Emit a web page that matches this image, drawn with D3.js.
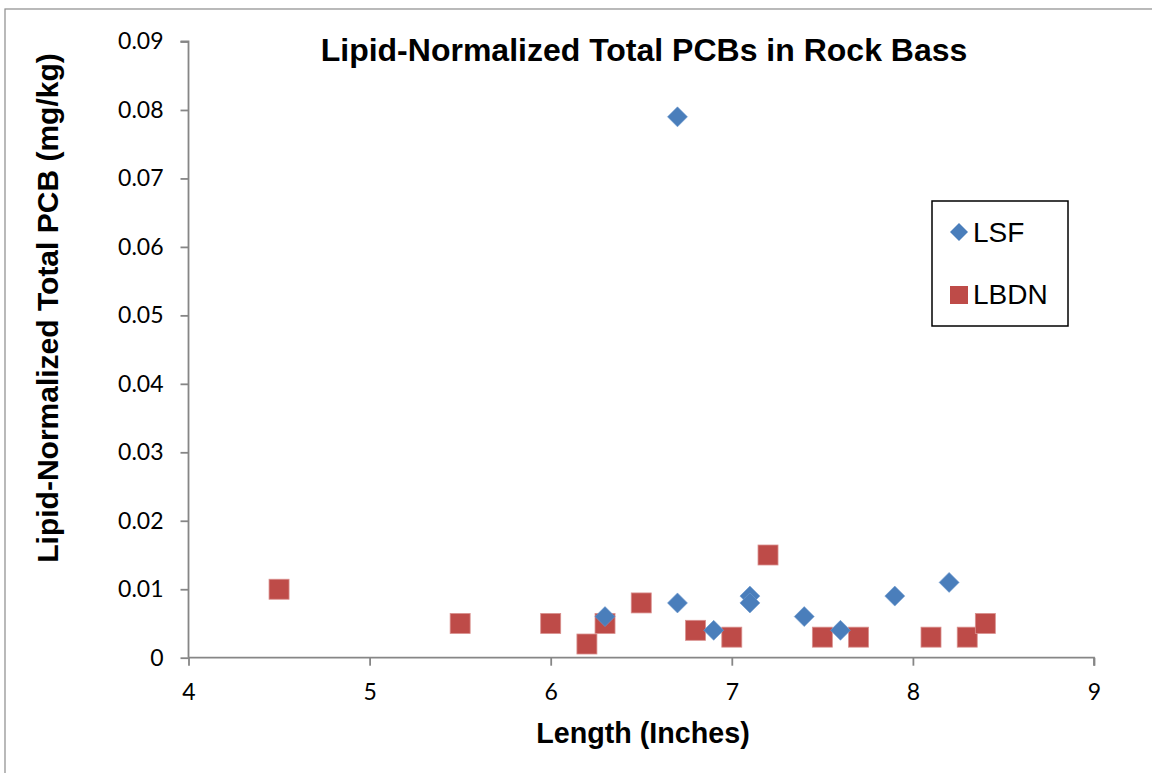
<!DOCTYPE html>
<html>
<head>
<meta charset="utf-8">
<script src="https://cdn.jsdelivr.net/npm/d3@7"></script>
<style>
  html, body { margin: 0; padding: 0; background: #fff; }
  svg { display: block; }
</style>
</head>
<body>
<svg id="chart" width="1152" height="773"></svg>
<script>
const titleText = "Lipid-Normalized Total PCBs in Rock Bass";
const xLabel = "Length (Inches)";
const yLabel = "Lipid-Normalized Total PCB (mg/kg)";
const seriesNames = ["LSF", "LBDN"];
const xTicks = [4, 5, 6, 7, 8, 9];
const yTicks = [0, 0.01, 0.02, 0.03, 0.04, 0.05, 0.06, 0.07, 0.08, 0.09];

const lsfX = [6.3, 6.7, 6.7, 6.9, 7.1, 7.1, 7.4, 7.6, 7.9, 8.2];
const lsfY = [0.006, 0.079, 0.008, 0.004, 0.009, 0.008, 0.006, 0.004, 0.009, 0.011];

const lbdnX = [4.5, 5.5, 6.0, 6.2, 6.3, 6.5, 6.8, 7.0, 7.2, 7.5, 7.7, 8.1, 8.3, 8.4];
const lbdnY = [0.010, 0.005, 0.005, 0.002, 0.005, 0.008, 0.004, 0.003, 0.015, 0.003, 0.003, 0.003, 0.003, 0.005];

const svg = d3.select("#chart");
const W = 1152, H = 773;
const plot = { left: 188.5, right: 1094, top: 41.5, bottom: 657.7 };

const blue = "#4A7EBB", red = "#BE4B48";
const axisColor = "#868686";
const tickFont = "Lato, 'Open Sans', sans-serif";
const boldFont = "'Liberation Sans', Arial, sans-serif";

// outer chart border
svg.append("rect").attr("x", 5).attr("y", 9).attr("width", W + 20).attr("height", H + 20)
  .attr("fill", "#fff").attr("stroke", "#8c8c8c").attr("stroke-width", 1.2);

const x = d3.scaleLinear().domain([4, 9]).range([plot.left, plot.right]);
const y = d3.scaleLinear().domain([0, 0.09]).range([plot.bottom, plot.top]);

// Y axis
const yAxis = d3.axisLeft(y).tickValues(yTicks).tickSize(8).tickPadding(17)
  .tickFormat(d => d === 0 ? "0" : d3.format(".2f")(d));
const gy = svg.append("g").attr("transform", `translate(${plot.left},0)`).call(yAxis);
gy.select(".domain").attr("stroke", axisColor).attr("stroke-width", 1.8)
  .attr("d", `M-8,${plot.top}H0V${plot.bottom}`);
gy.selectAll(".tick line").attr("stroke", axisColor).attr("stroke-width", 1.8);
gy.selectAll(".tick text").attr("fill", "#000").style("font-family", tickFont).style("font-size", "23px");

// X axis
const xAxis = d3.axisBottom(x).tickValues(xTicks).tickSize(8).tickPadding(18).tickFormat(d3.format("d"));
const gx = svg.append("g").attr("transform", `translate(0,${plot.bottom})`).call(xAxis);
gx.select(".domain").attr("stroke", axisColor).attr("stroke-width", 1.8)
  .attr("d", `M${plot.left},0H${plot.right}V8`);
gx.selectAll(".tick line").attr("stroke", axisColor).attr("stroke-width", 1.8);
gx.selectAll(".tick text").attr("fill", "#000").style("font-family", tickFont).style("font-size", "23px");

// LBDN squares
const sq = 20;
svg.append("g").selectAll("rect").data(lbdnX.map((v, i) => [v, lbdnY[i]])).join("rect")
  .attr("x", d => x(d[0]) - sq / 2).attr("y", d => y(d[1]) - sq / 2)
  .attr("width", sq).attr("height", sq)
  .attr("fill", red).attr("stroke", "#d9908e").attr("stroke-width", 0.8);

// LSF diamonds
const dm = 10;
const diamond = (cx, cy, r) => `M${cx},${cy - r}L${cx + r},${cy}L${cx},${cy + r}L${cx - r},${cy}Z`;
svg.append("g").selectAll("path").data(lsfX.map((v, i) => [v, lsfY[i]])).join("path")
  .attr("d", d => diamond(x(d[0]), y(d[1]), dm))
  .attr("fill", blue).attr("stroke", "#6f9bd0").attr("stroke-width", 0.6);

// Title
svg.append("text").attr("x", 644).attr("y", 61).attr("text-anchor", "middle")
  .style("font-family", boldFont).style("font-weight", "bold").style("font-size", "32px")
  .text(titleText);

// Axis titles
svg.append("text").attr("x", 643).attr("y", 743).attr("text-anchor", "middle")
  .style("font-family", boldFont).style("font-weight", "bold").style("font-size", "28.7px")
  .text(xLabel);
svg.append("text").attr("transform", "translate(58,308) rotate(-90)").attr("text-anchor", "middle")
  .style("font-family", boldFont).style("font-weight", "bold").style("font-size", "30px")
  .text(yLabel);

// Legend
const lg = svg.append("g");
lg.append("rect").attr("x", 932).attr("y", 201).attr("width", 136).attr("height", 125)
  .attr("fill", "#fff").attr("stroke", "#000").attr("stroke-width", 1.5);
lg.append("path").attr("d", diamond(959, 232, 9)).attr("fill", blue);
lg.append("rect").attr("x", 950).attr("y", 286).attr("width", 18).attr("height", 18).attr("fill", red);
lg.append("text").attr("x", 973).attr("y", 242)
  .style("font-family", boldFont).style("font-size", "28px").text(seriesNames[0]);
lg.append("text").attr("x", 973).attr("y", 304)
  .style("font-family", boldFont).style("font-size", "28px").text(seriesNames[1]);
</script>
</body>
</html>
